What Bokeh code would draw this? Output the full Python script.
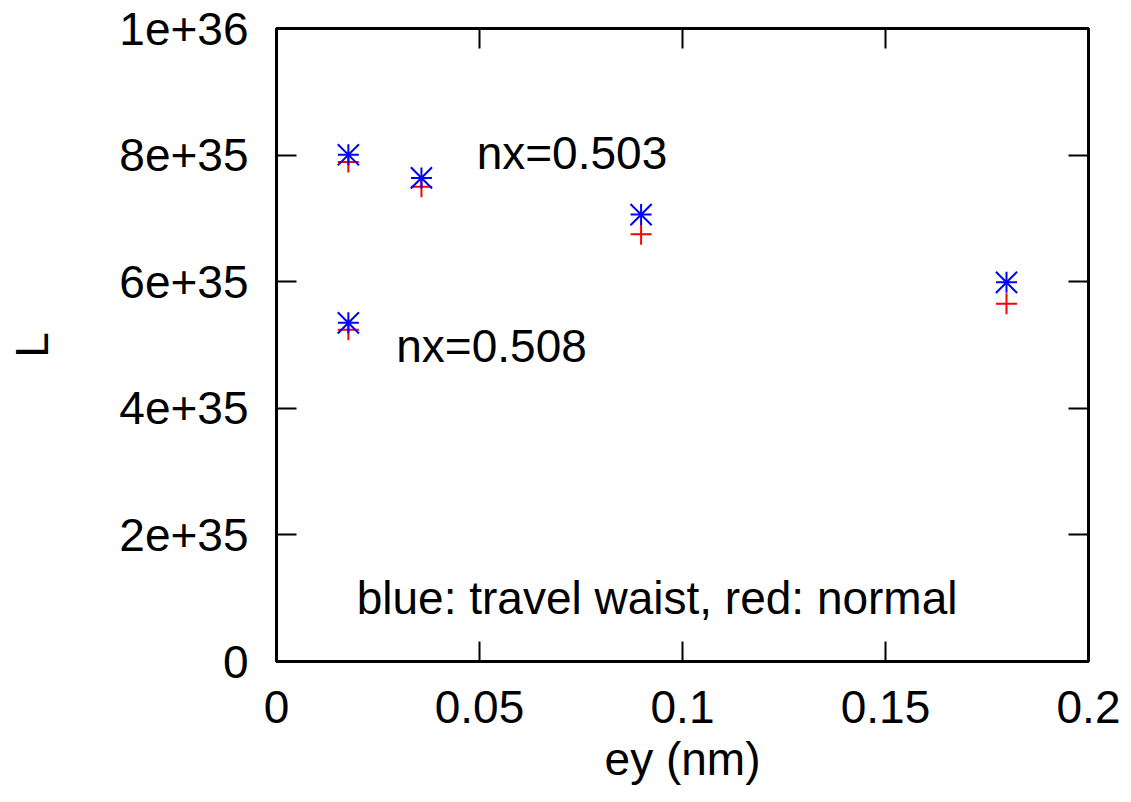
from bokeh.plotting import figure
from bokeh.models import LinearAxis, FixedTicker, Label, Range1d
from bokeh.embed import file_html
from bokeh.resources import INLINE

# ---- data ----
ey_main = [0.0177, 0.0357, 0.0898, 0.1798]          # nx = 0.503 scan
L_travel_main = [8.005e35, 7.64e35, 7.06e35, 5.99e35]  # blue: travel waist
L_normal_main = [7.89e35, 7.50e35, 6.75e35, 5.65e35]   # red: normal
ey_alt = [0.0177]                                    # nx = 0.508
L_travel_alt = [5.35e35]
L_normal_alt = [5.24e35]

x_ticks = [0, 0.05, 0.1, 0.15, 0.2]
x_tick_labels = ["0", "0.05", "0.1", "0.15", "0.2"]
y_ticks = [0, 2e35, 4e35, 6e35, 8e35, 1e36]
y_tick_labels = ["0", "2e+35", "4e+35", "6e+35", "8e+35", "1e+36"]

FONT = "Liberation Sans"
FS = "46px"

p = figure(width=1131, height=802, output_backend="svg", toolbar_location=None,
           x_range=Range1d(0, 0.2), y_range=Range1d(0, 1e36),
           min_border_left=276, min_border_right=43, min_border_top=28,
           min_border_bottom=141, x_axis_label="ey (nm)", y_axis_label="L")
p.grid.visible = False
p.outline_line_color = "black"
p.outline_line_width = 3
p.background_fill_color = "white"
p.border_fill_color = "white"

xt = FixedTicker(ticks=x_ticks)
yt = FixedTicker(ticks=y_ticks)

for ax, tk, labels in ((p.xaxis[0], xt, x_tick_labels), (p.yaxis[0], yt, y_tick_labels)):
    ax.ticker = tk
    ax.major_label_overrides = {t: l for t, l in zip(tk.ticks, labels)}
    ax.axis_line_color = None
    ax.major_tick_in = 20
    ax.major_tick_out = 0
    ax.major_tick_line_width = 2
    ax.minor_tick_line_color = None
    ax.major_label_text_font = FONT
    ax.major_label_text_font_size = FS
    ax.major_label_text_color = "black"
    ax.axis_label_text_font = FONT
    ax.axis_label_text_font_size = FS
    ax.axis_label_text_font_style = "normal"
    ax.axis_label_text_color = "black"

p.xaxis[0].major_label_standoff = 29
p.xaxis[0].axis_label_standoff = 7
p.yaxis[0].major_label_standoff = 28
p.yaxis[0].axis_label_standoff = 58

# mirror ticks on top and right (tick marks only, labels not drawn)
for side, tk in (("above", xt), ("right", yt)):
    a = LinearAxis(ticker=tk, axis_line_color=None, major_tick_in=20, major_tick_out=0,
                   major_tick_line_width=2, minor_tick_line_color=None,
                   major_label_text_font_size="8px", major_label_text_color=None,
                   major_label_standoff=0)
    p.add_layout(a, side)

# red: normal (drawn first)
p.scatter(ey_main, L_normal_main, marker="cross", size=21, line_color="red", line_width=2)
p.scatter(ey_alt, L_normal_alt, marker="cross", size=21, line_color="red", line_width=2)
# blue: travel waist (star = plus + x)
for xs, ys in ((ey_main, L_travel_main), (ey_alt, L_travel_alt)):
    p.scatter(xs, ys, marker="cross", size=21, line_color="blue", line_width=2)
    p.scatter(xs, ys, marker="x", size=30, line_color="blue", line_width=2)

lab_kw = dict(text_font=FONT, text_font_size=FS, text_color="black",
              text_baseline="bottom")
p.add_layout(Label(x=0.0493, y=0.7622e36, text="nx=0.503", **lab_kw))
p.add_layout(Label(x=0.0295, y=0.4573e36, text="nx=0.508", **lab_kw))
p.add_layout(Label(x=0.01975, y=0.0592e36, text="blue: travel waist, red: normal", **lab_kw))

open("out.html", "w").write(file_html(p, INLINE))
